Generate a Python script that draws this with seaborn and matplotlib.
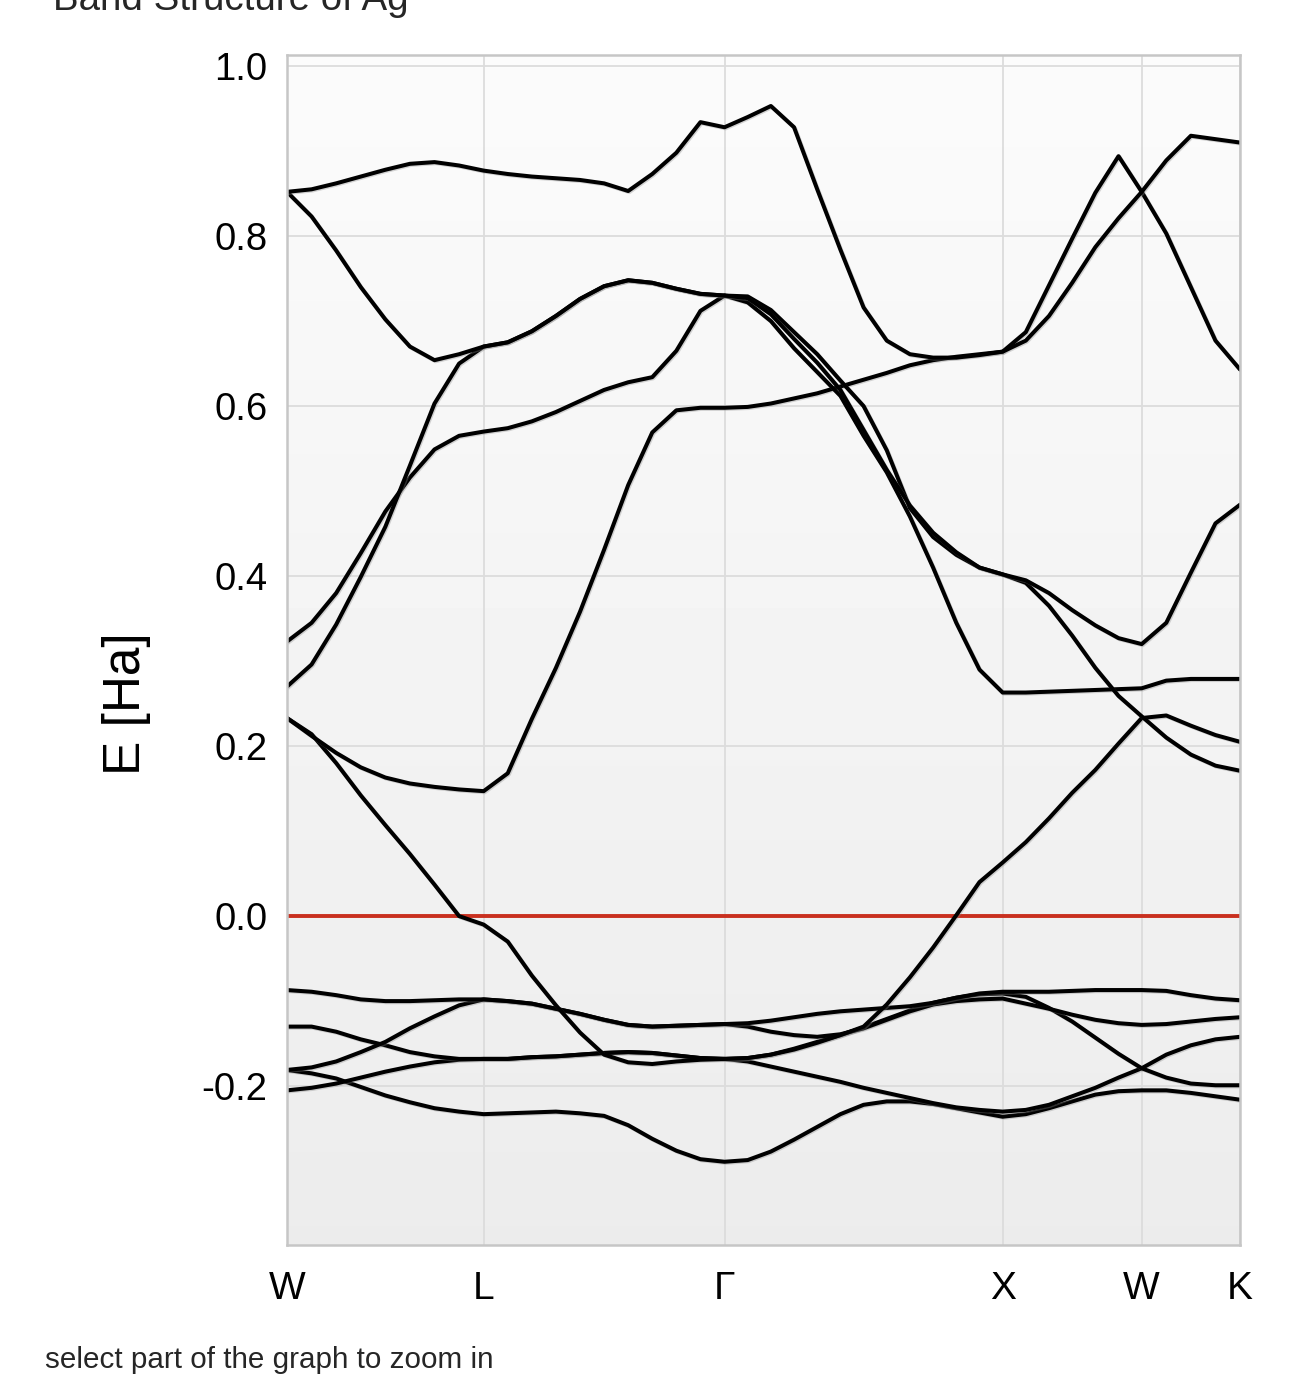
import numpy as np
import pandas as pd
import seaborn as sns
import matplotlib.pyplot as plt
import matplotlib.patheffects as pe

# k-path W-L-G-X-W-K (distances in units of 2pi/a)
sym_labels = ['W', 'L', 'Γ', 'X', 'W', 'K']
sym_k = [0.0, 0.7071, 1.5731, 2.5731, 3.0731, 3.4267]
seg_steps = [8, 10, 12, 6, 4]

# band energies [Ha]
band_1 = [-0.181, -0.185, -0.191, -0.201, -0.211, -0.219, -0.226, -0.230, -0.233,
          -0.232, -0.231, -0.230, -0.232, -0.235, -0.246, -0.262, -0.276, -0.286, -0.289,
          -0.287, -0.277, -0.263, -0.248, -0.233, -0.222, -0.218, -0.218, -0.221, -0.226, -0.231, -0.236,
          -0.233, -0.226, -0.218, -0.210, -0.206, -0.205,
          -0.205, -0.208, -0.212, -0.216]
band_2 = [-0.205, -0.202, -0.197, -0.190, -0.183, -0.177, -0.172, -0.169, -0.168,
          -0.168, -0.166, -0.165, -0.163, -0.161, -0.160, -0.161, -0.164, -0.167, -0.168,
          -0.171, -0.177, -0.183, -0.189, -0.195, -0.202, -0.208, -0.214, -0.220, -0.225, -0.228, -0.230,
          -0.228, -0.222, -0.212, -0.202, -0.190, -0.179,
          -0.163, -0.152, -0.145, -0.142]
band_3 = [-0.130, -0.130, -0.136, -0.145, -0.152, -0.160, -0.165, -0.168, -0.168,
          -0.168, -0.166, -0.165, -0.163, -0.161, -0.160, -0.161, -0.164, -0.167, -0.168,
          -0.167, -0.163, -0.156, -0.148, -0.140, -0.131, -0.121, -0.111, -0.102, -0.096, -0.092, -0.091,
          -0.095, -0.108, -0.124, -0.143, -0.162, -0.179,
          -0.190, -0.197, -0.199, -0.199]
band_4 = [-0.181, -0.178, -0.171, -0.160, -0.148, -0.132, -0.118, -0.105, -0.098,
          -0.100, -0.103, -0.109, -0.115, -0.122, -0.128, -0.130, -0.129, -0.128, -0.127,
          -0.130, -0.136, -0.140, -0.142, -0.139, -0.132, -0.122, -0.112, -0.104, -0.100, -0.098, -0.097,
          -0.103, -0.109, -0.116, -0.122, -0.126, -0.128,
          -0.127, -0.124, -0.121, -0.119]
band_5 = [-0.087, -0.089, -0.093, -0.098, -0.100, -0.100, -0.099, -0.098, -0.098,
          -0.100, -0.103, -0.109, -0.115, -0.122, -0.128, -0.130, -0.129, -0.128, -0.127,
          -0.126, -0.123, -0.119, -0.115, -0.112, -0.110, -0.108, -0.106, -0.102, -0.096, -0.091, -0.089,
          -0.089, -0.089, -0.088, -0.087, -0.087, -0.087,
          -0.088, -0.093, -0.097, -0.099]
band_6 = [0.233, 0.214, 0.180, 0.142, 0.107, 0.073, 0.037, 0.000, -0.010,
          -0.030, -0.070, -0.105, -0.137, -0.163, -0.172, -0.174, -0.171, -0.169, -0.168,
          -0.167, -0.163, -0.157, -0.149, -0.140, -0.130, -0.104, -0.072, -0.037, 0.001, 0.040, 0.063,
          0.087, 0.115, 0.145, 0.172, 0.203, 0.233,
          0.236, 0.224, 0.213, 0.205]
band_7 = [0.233, 0.212, 0.192, 0.175, 0.163, 0.156, 0.152, 0.149, 0.147,
          0.168, 0.232, 0.292, 0.358, 0.431, 0.507, 0.569, 0.595, 0.598, 0.598,
          0.599, 0.603, 0.609, 0.615, 0.623, 0.631, 0.639, 0.648, 0.654, 0.658, 0.661, 0.664,
          0.687, 0.742, 0.797, 0.851, 0.894, 0.852,
          0.803, 0.740, 0.677, 0.643]
band_8 = [0.323, 0.345, 0.380, 0.427, 0.476, 0.516, 0.549, 0.565, 0.570,
          0.574, 0.582, 0.593, 0.606, 0.619, 0.628, 0.634, 0.665, 0.712, 0.730,
          0.722, 0.700, 0.668, 0.640, 0.612, 0.565, 0.522, 0.470, 0.410, 0.345, 0.290, 0.263,
          0.263, 0.264, 0.265, 0.266, 0.267, 0.268,
          0.277, 0.279, 0.279, 0.279]
band_9 = [0.270, 0.296, 0.343, 0.399, 0.458, 0.530, 0.603, 0.650, 0.670,
          0.675, 0.688, 0.706, 0.726, 0.741, 0.748, 0.745, 0.738, 0.732, 0.730,
          0.729, 0.713, 0.687, 0.661, 0.630, 0.600, 0.548, 0.480, 0.446, 0.425, 0.410, 0.402,
          0.392, 0.365, 0.330, 0.292, 0.259, 0.235,
          0.210, 0.190, 0.177, 0.171]
band_10 = [0.852, 0.823, 0.783, 0.740, 0.702, 0.670, 0.654, 0.661, 0.670,
           0.675, 0.688, 0.706, 0.726, 0.741, 0.748, 0.745, 0.738, 0.732, 0.730,
           0.727, 0.708, 0.679, 0.651, 0.619, 0.572, 0.525, 0.483, 0.451, 0.428, 0.410, 0.402,
           0.395, 0.380, 0.360, 0.342, 0.327, 0.320,
           0.345, 0.404, 0.462, 0.484]
band_11 = [0.852, 0.855, 0.862, 0.870, 0.878, 0.885, 0.887, 0.883, 0.877,
           0.873, 0.870, 0.868, 0.866, 0.862, 0.853, 0.873, 0.898, 0.934, 0.928,
           0.940, 0.953, 0.928, 0.855, 0.784, 0.716, 0.677, 0.661, 0.657, 0.657, 0.660, 0.664,
           0.677, 0.706, 0.745, 0.787, 0.821, 0.852,
           0.889, 0.918, 0.914, 0.910]
bands = [band_1, band_2, band_3, band_4, band_5, band_6,
         band_7, band_8, band_9, band_10, band_11]

yticks = [-0.2, 0.0, 0.2, 0.4, 0.6, 0.8, 1.0]

# sampling grid along the path
k = [sym_k[0]]
for i, n in enumerate(seg_steps):
    k.extend(np.linspace(sym_k[i], sym_k[i + 1], n + 1)[1:])
k = np.array(k)

df = pd.concat([pd.DataFrame({'k': k, 'E': b, 'band': i}) for i, b in enumerate(bands)])

sns.set_theme(style="whitegrid")
plt.rcParams['font.family'] = ['Liberation Sans', 'DejaVu Sans']
plt.rcParams['axes.unicode_minus'] = False

fig = plt.figure(figsize=(12.94, 13.75), dpi=100)
ax = fig.add_axes([0.2218, 0.0945, 0.7365, 0.8655])

ylo, yhi = -0.387, 1.013
grad = np.linspace(0.985, 0.925, 256).reshape(-1, 1)
ax.imshow(grad, extent=[sym_k[0], sym_k[-1], ylo, yhi], cmap='gray', vmin=0, vmax=1,
          aspect='auto', origin='upper', zorder=0)

ax.axhline(0.0, color='#c9301f', lw=2.8, zorder=1.8)

sns.lineplot(data=df, x='k', y='E', units='band', estimator=None, sort=False,
             color='black', lw=2.9, ax=ax, zorder=2,
             path_effects=[pe.SimpleLineShadow(offset=(0.8, -0.8), shadow_color='#888888', alpha=0.35),
                           pe.Normal()])
for line in ax.get_lines():
    line.set_solid_joinstyle('round')

ax.set_xlim(sym_k[0], sym_k[-1])
ax.set_ylim(ylo, yhi)
ax.set_xticks(sym_k)
ax.set_xticklabels(sym_labels, fontsize=28)
ax.set_yticks(yticks)
ax.set_yticklabels([f'{t:.1f}' for t in yticks], fontsize=27.5)
ax.tick_params(axis='x', pad=19, length=0, colors='black')
ax.tick_params(axis='y', pad=14, length=0, colors='black')
ax.grid(True, color='#dcdcdc', lw=1.3)
ax.set_axisbelow(True)
for s in ax.spines.values():
    s.set_visible(True)
    s.set_color('#c6c6c6')
    s.set_linewidth(1.8)

ax.set_xlabel('')
ax.set_ylabel('E [Ha]', fontsize=37, color='black')
ax.yaxis.set_label_coords(-0.143, 0.455)

fig.text(0.041, 0.9927, 'Band Structure of Ag', fontsize=27.7, va='baseline', ha='left')
fig.text(0.035, 0.0051, 'select part of the graph to zoom in', fontsize=21.3,
         va='baseline', ha='left')

fig.savefig('out.png', dpi=100)
